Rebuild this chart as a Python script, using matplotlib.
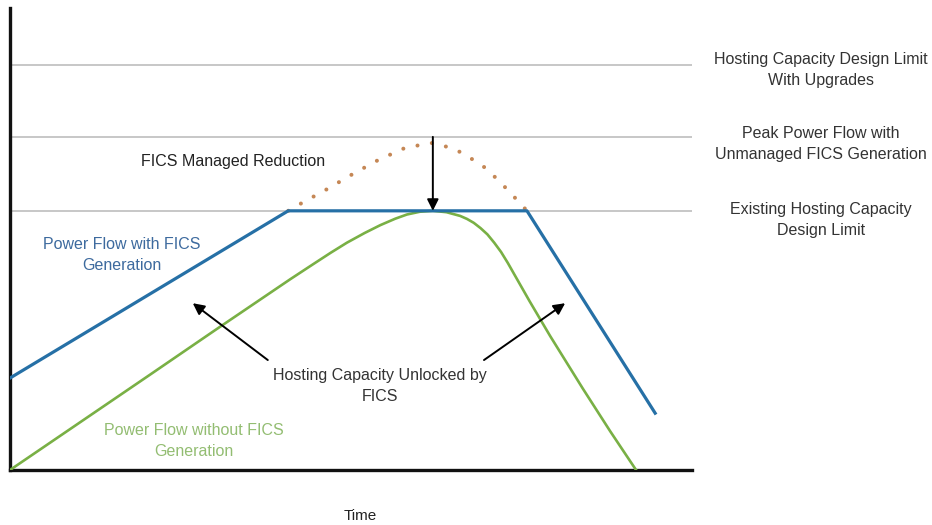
import matplotlib.pyplot as plt

plt.rcParams['font.family'] = ['Liberation Sans', 'DejaVu Sans']

# time and power flow, both in arbitrary 0-100 units
limit_upgrades = 87.7
peak_unmanaged = 72.1
limit_existing = 56.1

blue_t = [0, 40.8, 75.8, 94.6]
blue_p = [19.9, 56.1, 56.1, 12.3]

green_t = [0, 20.5, 30.4, 41.1, 44.4, 47.0, 49.4, 52.0, 54.3, 56.5, 58.2, 60.1, 62.0,
           64.0, 66.0, 67.0, 68.0, 69.0, 70.0, 71.0, 72.0, 73.0, 74.0, 76.2, 79.2, 84.0, 88.0, 91.8]
green_p = [0, 20.6, 30.6, 41.3, 44.5, 47.0, 49.2, 51.3, 53.0, 54.4, 55.3, 55.9, 56.1,
           55.8, 55.0, 54.35, 53.5, 52.35, 51.0, 49.2, 47.2, 44.8, 42.2, 36.5, 29.0, 17.6, 8.4, 0]

orange_t = [40.8, 42.8, 46.5, 50.3, 54.0, 57.9, 60.0, 62.0, 64.2, 66.4, 69.9, 73.0, 75.8]
orange_p = [56.1, 57.8, 60.8, 64.1, 67.1, 69.7, 70.3, 70.8, 69.9, 68.6, 65.2, 60.6, 56.1]

fig = plt.figure(figsize=(9.32, 5.25), dpi=100)
ax = fig.add_axes([10/932, 55/525, 682/932, 462/525])
ax.set_xlim(0, 100)
ax.set_ylim(0, 100)
ax.set_xticks([])
ax.set_yticks([])
for s in ['top', 'right']:
    ax.spines[s].set_visible(False)
for s in ['left', 'bottom']:
    ax.spines[s].set_linewidth(2.4)
    ax.spines[s].set_color('#111111')

for lvl in [limit_upgrades, peak_unmanaged, limit_existing]:
    ax.axhline(lvl, color='#bdbdbd', lw=1.2, zorder=1)

ax.plot(orange_t, orange_p, color='#c58755', lw=2.9, linestyle=(0, (0.01, 3.6)),
        dash_capstyle='round', zorder=2)
ax.plot(green_t, green_p, color='#79b045', lw=1.9, zorder=3, solid_joinstyle='round')
ax.plot(blue_t, blue_p, color='#2670a6', lw=2.3, zorder=4)

arrow = dict(arrowstyle='-|>', color='black', lw=1.4, mutation_scale=17, shrinkA=0, shrinkB=0)
ax.annotate('', xy=(62.0, limit_existing), xytext=(62.0, peak_unmanaged), arrowprops=arrow, zorder=5)
ax.annotate('', xy=(26.8, 36.1), xytext=(37.8, 23.8), arrowprops=arrow)
ax.annotate('', xy=(81.4, 36.1), xytext=(69.5, 23.8), arrowprops=arrow)

txt = dict(fontsize=11.5, ha='center', va='center', linespacing=1.45, clip_on=False)
ax.text(32.7, 66.7, 'FICS Managed Reduction', color='#222222', **txt)
ax.text(16.4, 46.5, 'Power Flow with FICS\nGeneration', color='#3d6a9e', **txt)
ax.text(27.0, 6.3, 'Power Flow without FICS\nGeneration', color='#93bd72', **txt)
ax.text(54.3, 18.2, 'Hosting Capacity Unlocked by\nFICS', color='#333333', **txt)
ax.text(118.9, 86.6, 'Hosting Capacity Design Limit\nWith Upgrades', color='#333333', **txt)
ax.text(118.9, 70.6, 'Peak Power Flow with\nUnmanaged FICS Generation', color='#333333', **txt)
ax.text(118.9, 54.1, 'Existing Hosting Capacity\nDesign Limit', color='#333333', **txt)

fig.text(360/932, 1 - 516/525, 'Time', fontsize=11, ha='center', va='center', color='#222222')

fig.savefig('out.png', dpi=100)
